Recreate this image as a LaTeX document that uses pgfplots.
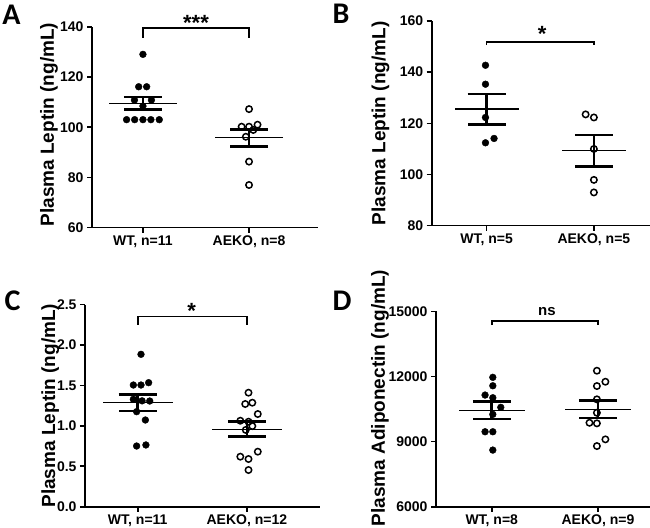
\documentclass[border=0pt]{standalone}
\usepackage{fontspec}
\setmainfont{Liberation Sans}
\newfontfamily\letterfont{Carlito}
\usepackage{pgfplots}
\pgfplotsset{compat=1.18}

\pgfplotsset{
  panel/.style={
    scale only axis, anchor=south west, clip=false,
    axis lines=left, axis line style={-, line width=1.6bp},
    every tick/.style={black, line width=1.6bp},
    tick align=outside, major tick length=5bp,
    xtick={1,2},
    tick label style={font=\fontsize{14bp}{16bp}\selectfont\bfseries},
    ylabel style={font=\fontsize{19bp}{21bp}\selectfont\bfseries, anchor=center},
    /pgf/number format/assume math mode=true,
    /pgf/number format/1000 sep={},
    scaled y ticks=false,
  },
  wt/.style={only marks, mark=*, mark size=3.4bp, black},
  ko/.style={only marks, mark=o, mark size=3.2bp, black, mark options={line width=1.5bp}},
  msem/.style={only marks, black, mark=-, mark size=#1, mark options={line width=1.3bp},
    error bars/.cd, y dir=both, y explicit,
    error bar style={line width=2.6bp},
    error mark options={rotate=90, line width=2.6bp, mark size=19bp}},
  bracket/.style={black, line width=1.6bp, mark=none},
}
\tikzset{
  sig/.style={font=\fontsize{22bp}{22bp}\selectfont\bfseries, anchor=base},
  letter/.style={font=\fontsize{30bp}{30bp}\letterfont\bfseries},
}

\begin{document}
\begin{tikzpicture}
\useasboundingbox (0,0) rectangle (650bp,528bp);

% A
\begin{axis}[panel, at={(92bp,300.3bp)}, width=226bp, height=201bp,
  xmin=0.52, xmax=2.65, ymin=60, ymax=140, ytick={60,80,...,140},
  xticklabels={{WT, n=11},{AEKO, n=8}},
  ylabel={Plasma Leptin (ng/mL)},
  ylabel style={at={(axis description cs:-0.19,0.513)}}]
\addplot[wt] coordinates {(1.00,129.0) (0.96,116.1) (1.035,116.1) (0.92,110.8) (1.08,110.8)
  (1.00,108.4) (0.846,103) (0.922,103) (1.00,103) (1.075,103) (1.154,103)};
\addplot[ko] coordinates {(2.00,107.2) (1.93,100.2) (2.00,100.2) (2.08,101.0) (2.04,98.9)
  (1.97,96.2) (2.00,86.3) (2.00,77.0)};
\addplot[msem=34bp] coordinates {(1,109.55) +- (0,2.45) (2,95.8) +- (0,3.4)};
\addplot[bracket] coordinates {(1,135.6) (1,139.4) (2,139.4) (2,135.6)};
\node[sig] at (axis cs:1.5,138.5) {***};
\end{axis}

% B
\begin{axis}[panel, at={(431.7bp,302.3bp)}, width=218bp, height=204.7bp,
  xmin=0.489, xmax=2.52, ymin=80, ymax=160, ytick={80,100,...,160},
  xticklabels={{WT, n=5},{AEKO, n=5}},
  ylabel={Plasma Leptin (ng/mL)},
  ylabel style={at={(axis description cs:-0.235,0.5)}}]
\addplot[wt] coordinates {(0.99,142.7) (0.99,135.3) (0.99,122.3) (0.99,112.4) (1.07,114.1)};
\addplot[ko] coordinates {(1.923,123.5) (2.00,122.3) (2.00,110.0) (2.00,97.9) (2.00,93.0)};
\addplot[msem=32bp] coordinates {(1,125.55) +- (0,5.95) (2,109.3) +- (0,6.2)};
\addplot[bracket] coordinates {(1,150.6) (1,151.9) (2,151.9) (2,150.6)};
\node[sig] at (axis cs:1.517,152.0) {*};
\end{axis}

% C
\begin{axis}[panel, at={(85bp,21.3bp)}, width=235bp, height=202bp,
  xmin=0.517, xmax=2.67, ymin=0, ymax=2.5, ytick={0,0.5,...,2.5},
  yticklabel style={/pgf/number format/.cd, fixed, fixed zerofill, precision=1},
  xticklabels={{WT, n=11},{AEKO, n=12}},
  ylabel={Plasma Leptin (ng/mL)},
  ylabel style={at={(axis description cs:-0.148,0.5)}}]
\addplot[wt] coordinates {(1.03,1.886) (0.96,1.506) (1.03,1.506) (1.10,1.535) (0.96,1.329)
  (1.04,1.31) (1.11,1.308) (0.99,1.176) (1.07,1.073) (0.99,0.751) (1.075,0.764)};
\addplot[ko] coordinates {(2.015,1.411) (1.985,1.271) (2.05,1.287) (2.10,1.147) (1.94,1.064)
  (2.015,1.052) (1.99,0.95) (2.05,0.998) (1.94,0.619) (2.015,0.59) (2.10,0.681) (2.015,0.454)};
\addplot[msem=35bp] coordinates {(1,1.287) +- (0,0.103) (2,0.959) +- (0,0.093)};
\addplot[bracket] coordinates {(1,2.249) (1,2.356) (2,2.356) (2,2.249)};
\node[sig] at (axis cs:1.495,2.335) {*};
\end{axis}

% D
\begin{axis}[panel, at={(436bp,21.3bp)}, width=214bp, height=195.4bp,
  xmin=0.475, xmax=2.49, ymin=6000, ymax=15000, ytick={6000,9000,12000,15000},
  xticklabels={{WT, n=8},{AEKO, n=9}},
  ylabel={Plasma Adiponectin (ng/mL)},
  ylabel style={at={(axis description cs:-0.262,0.556)}}]
\addplot[wt] coordinates {(1.01,11959) (1.01,11571) (0.937,11143) (1.01,11018) (1.085,10576)
  (1.01,10253) (0.937,9452) (1.01,9452) (1.01,8608)};
\addplot[ko] coordinates {(1.99,12263) (2.07,11756) (1.99,11558) (1.99,10945) (1.99,10327)
  (1.92,9866) (1.99,9839) (1.99,8793) (2.07,9101)};
\addplot[msem=33bp] coordinates {(1,10438) +- (0,400) (2,10484) +- (0,400)};
\addplot[bracket] coordinates {(1,14369) (1,14567) (2,14567) (2,14369)};
\node[sig, font=\fontsize{15bp}{15bp}\selectfont\bfseries] at (axis cs:1.52,14830) {ns};
\end{axis}

\node[letter] at (11.5bp,513bp) {A};
\node[letter] at (341bp,514bp) {B};
\node[letter] at (12.5bp,227bp) {C};
\node[letter] at (342bp,227bp) {D};
\end{tikzpicture}
\end{document}
